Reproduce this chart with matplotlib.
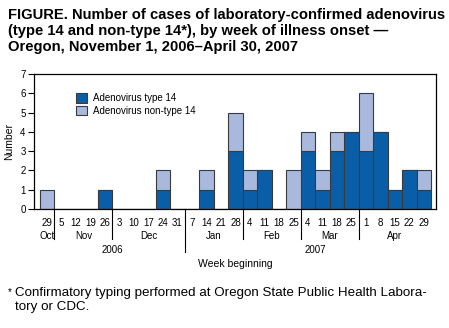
import numpy as np
import matplotlib
matplotlib.use("Agg")
import matplotlib.pyplot as plt
import matplotlib.transforms as mtransforms

plt.rcParams['font.family'] = ['Liberation Sans', 'DejaVu Sans']

days = [29, 5, 12, 19, 26, 3, 10, 17, 24, 31, 7, 14, 21, 28,
        4, 11, 18, 25, 4, 11, 18, 25, 1, 8, 15, 22, 29]
type14 = [0, 0, 0, 0, 1, 0, 0, 0, 1, 0, 0, 1, 0, 3,
          1, 2, 0, 0, 3, 1, 3, 4, 3, 4, 1, 2, 1]
nontype14 = [1, 0, 0, 0, 0, 0, 0, 0, 1, 0, 0, 1, 0, 2,
             1, 0, 0, 2, 1, 1, 1, 0, 3, 0, 0, 0, 1]
months = ["Oct", "Nov", "Dec", "Jan", "Feb", "Mar", "Apr"]
month_weeks = [1, 4, 5, 4, 4, 4, 5]
years = ["2006", "2007"]

dark = '#0a5ea8'
light = '#a9b9de'
edge = '#3a3a3a'

fig = plt.figure(figsize=(4.49, 3.28), dpi=100)
ax = fig.add_axes([34/449, 1 - 209/328, 402/449, 135/328])

x = np.arange(len(days))
ax.bar(x, type14, width=1.0, color=dark, edgecolor=edge, linewidth=0.8,
       label="Adenovirus type 14")
ax.bar(x, nontype14, width=1.0, bottom=type14, color=light, edgecolor=edge,
       linewidth=0.8, label="Adenovirus non-type 14")

ax.set_xlim(-0.91, len(days) - 0.16)
ax.set_ylim(0, 7)
ax.set_yticks(range(8))
ax.set_xticks([])
ax.tick_params(axis='y', labelsize=7, length=4, width=0.8, pad=2)
for s in ax.spines.values():
    s.set_linewidth(0.9)
ax.set_ylabel("Number", fontsize=7.5, labelpad=4)

trans = mtransforms.blended_transform_factory(ax.transData, ax.transAxes)
for i, d in enumerate(days):
    ax.text(i, -0.065, str(d), transform=trans, ha='center', va='top', fontsize=7)

# month labels and separators
start = 0
for m, n in zip(months, month_weeks):
    center = start + (n - 1) / 2
    ax.text(center, -0.16, m, transform=trans, ha='center', va='top', fontsize=7)
    start += n
    if start < len(days):
        yb = -0.32 if m == "Dec" else -0.22
        ax.plot([start - 0.5, start - 0.5], [0, yb], transform=trans,
                color='black', linewidth=0.8, clip_on=False)

ax.text(4.5, -0.265, years[0], transform=trans, ha='center', va='top', fontsize=7)
ax.text(18.5, -0.265, years[1], transform=trans, ha='center', va='top', fontsize=7)
ax.text(13, -0.37, "Week beginning", transform=trans, ha='center', va='top', fontsize=7.5)

ax.legend(loc='upper left', bbox_to_anchor=(0.095, 0.885), frameon=False,
          fontsize=7, handlelength=1.1, handleheight=1.1, handletextpad=0.6,
          labelspacing=0.25, borderaxespad=0)

fig.text(8/449, 1 - 8/328, "FIGURE. Number of cases of laboratory-confirmed adenovirus\n"
         "(type 14 and non-type 14*), by week of illness onset \u2014\n"
         "Oregon, November 1, 2006\u2013April 30, 2007",
         ha='left', va='top', fontsize=10.6, fontweight='bold', linespacing=1.2)

fig.text(8/449, 1 - 287/328, "*", ha='left', va='top', fontsize=7)
fig.text(15/449, 1 - 287/328, "Confirmatory typing performed at Oregon State Public Health Labora-\n"
         "tory or CDC.", ha='left', va='top', fontsize=9.6, linespacing=1.2)

fig.savefig("out.png", dpi=100)
